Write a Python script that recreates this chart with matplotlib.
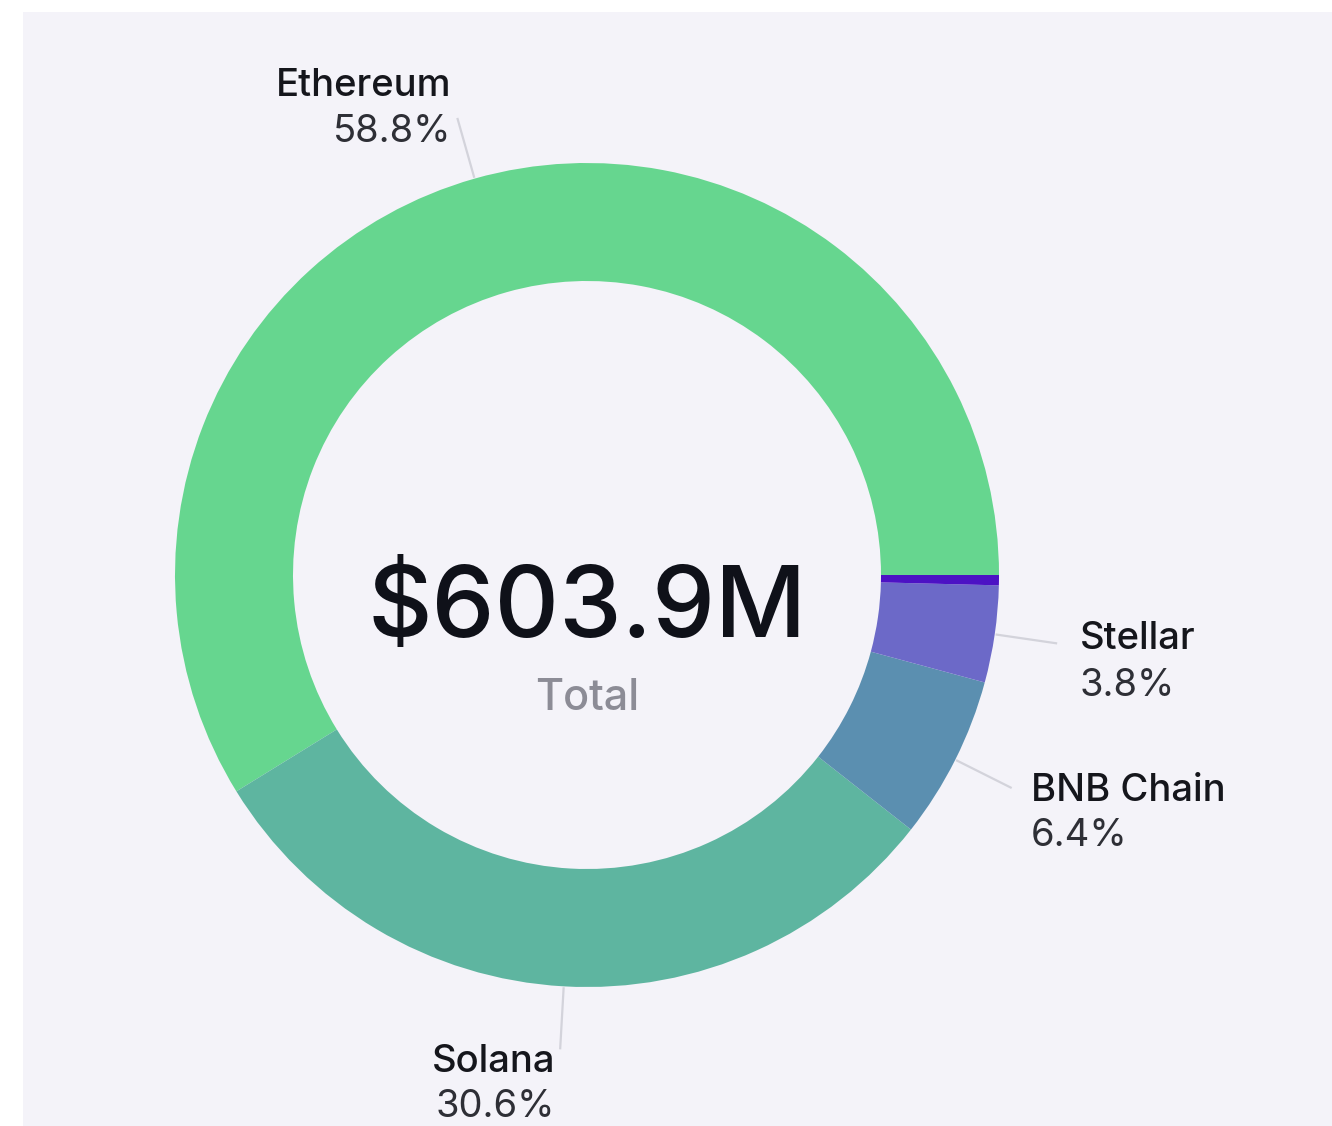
import matplotlib.pyplot as plt
from matplotlib.patches import Rectangle
import numpy as np

# data
chains = ["Ethereum", "Solana", "BNB Chain", "Stellar", "Other"]
shares = [58.8, 30.6, 6.4, 3.8, 0.4]
colors = ["#66d68f", "#5eb5a0", "#5b8fb0", "#6c69c8", "#4c12c4"]
total_label = "$603.9M"

W, H = 1332, 1126
bg = "#f4f3f9"

plt.rcParams['font.family'] = ['Inter', 'DejaVu Sans']

fig = plt.figure(figsize=(W / 100, H / 100), dpi=100)
fig.patch.set_facecolor("white")
fig.patches.append(Rectangle((23 / W, 0), 1 - 23 / W, 1 - 12 / H,
                             transform=fig.transFigure, facecolor=bg,
                             edgecolor="none", zorder=-10))

ax = fig.add_axes([0, 0, 1, 1])
ax.set_facecolor("none")

def py(y):
    # pixel row (from top) -> data y
    return H - y

cx, cy = 587, py(575)
r_out, r_in = 412, 294

wedges, _ = ax.pie(shares, colors=colors, startangle=0, counterclock=True,
                   radius=r_out, center=(cx, cy),
                   wedgeprops=dict(width=r_out - r_in, linewidth=0))

ax.set_xlim(0, W)
ax.set_ylim(0, H)
ax.set_aspect("equal")
ax.axis("off")

# leader lines (radial, from ring edge outward)
for w, name in zip(wedges, chains):
    if name == "Other":
        continue
    a = np.deg2rad((w.theta1 + w.theta2) / 2)
    r1, r2 = r_out + 2, r_out + 62
    ax.plot([cx + r1 * np.cos(a), cx + r2 * np.cos(a)],
            [cy + r1 * np.sin(a), cy + r2 * np.sin(a)],
            color="#d3d3db", lw=1.6, zorder=0)

# label layout: x, name baseline, pct baseline, alignment
label_pos = {
    "Ethereum": (451, 96, 142, "right"),
    "Solana": (555, 1072, 1117, "right"),
    "BNB Chain": (1031, 801, 846, "left"),
    "Stellar": (1080, 649, 696, "left"),
}
for name, pct in zip(chains, shares):
    if name not in label_pos:
        continue
    x, yn, yp, ha = label_pos[name]
    ax.text(x, py(yn), name, ha=ha, va="baseline", fontsize=27.5,
            fontweight="medium", color="#15161c")
    ax.text(x, py(yp), f"{pct}%", ha=ha, va="baseline", fontsize=27.5,
            color="#2e2f36")

ax.text(cx, py(637), total_label, ha="center", va="baseline", fontsize=72,
        fontweight="medium", color="#0f1119")
ax.text(cx, py(710), "Total", ha="center", va="baseline", fontsize=31,
        fontweight="medium", color="#8c8c96")

fig.savefig("out.png", dpi=100)
